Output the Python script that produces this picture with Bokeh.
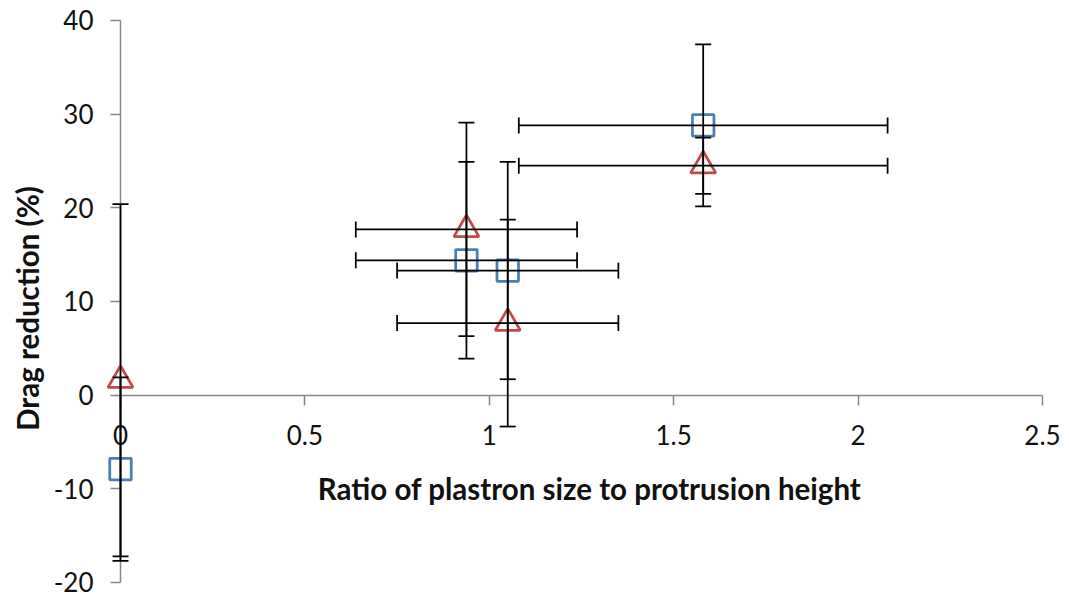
import math
from bokeh.plotting import figure
from bokeh.models import (ColumnDataSource, Whisker, TeeHead, Label,
                          FixedTicker, NumeralTickFormatter)
from bokeh.embed import file_html
from bokeh.resources import INLINE

# ---- data ----
ratio = [0.0, 0.938, 1.050, 1.580]          # plastron size / protrusion height
ratio_err = [0.0, 0.3, 0.3, 0.5]
sq_drag = [-7.9, 14.4, 13.3, 28.8]           # blue squares
sq_err = [9.8, 10.5, 11.6, 8.65]
tri_drag = [1.6, 17.7, 7.7, 24.5]            # red triangles
tri_err = [18.8, 11.4, 11.05, 3.0]

x_ticks = [0, 0.5, 1, 1.5, 2, 2.5]
y_ticks = [-20, -10, 0, 10, 20, 30, 40]

x_title = "Ratio of plastron size to protrusion height"
y_title = "Drag reduction (%)"

BLUE = "#4A7EBB"
RED = "#BE4B48"
AXIS = "#868686"
FONT = "Lato"

# The frame covers the whole canvas so that the axes, which cross at (0, 0),
# and their labels are not clipped; the ranges give 0..2.5 / -20..40 the
# reference's pixel extent.
p = figure(width=1065, height=599,
           x_range=(-0.3254, 2.5624), y_range=(-21.815, 42.135),
           output_backend="svg", toolbar_location=None,
           min_border_left=0, min_border_right=0,
           min_border_top=0, min_border_bottom=0)
p.grid.visible = False
p.outline_line_color = None
p.background_fill_color = "white"
p.border_fill_color = "white"

for ax, ticks, fmt in ((p.xaxis[0], x_ticks, "0.[0]"), (p.yaxis[0], y_ticks, "0")):
    ax.fixed_location = 0
    ax.ticker = FixedTicker(ticks=ticks)
    ax.formatter = NumeralTickFormatter(format=fmt)
    ax.axis_line_color = AXIS
    ax.axis_line_width = 1.5
    ax.major_tick_line_color = AXIS
    ax.major_tick_line_width = 1.5
    ax.major_tick_out = 10
    ax.major_tick_in = 0
    ax.minor_tick_line_color = None
    ax.major_label_text_font = FONT
    ax.major_label_text_font_size = "26px"
    ax.major_label_text_color = "#111111"

p.xaxis[0].bounds = (0, 2.5)
p.yaxis[0].bounds = (-20, 40)
p.xaxis[0].major_label_standoff = 20
p.yaxis[0].major_label_standoff = 17


def add_series(ys, yerr, color, marker, size):
    src = ColumnDataSource(dict(
        x=ratio, y=ys,
        yl=[a - e for a, e in zip(ys, yerr)],
        yu=[a + e for a, e in zip(ys, yerr)],
    ))
    idx = [i for i, e in enumerate(ratio_err) if e > 0]
    hsrc = ColumnDataSource(dict(
        y=[ys[i] for i in idx],
        xl=[ratio[i] - ratio_err[i] for i in idx],
        xu=[ratio[i] + ratio_err[i] for i in idx],
    ))
    for w in (
        Whisker(source=src, base="x", lower="yl", upper="yu", dimension="height"),
        Whisker(source=hsrc, base="y", lower="xl", upper="xu", dimension="width"),
    ):
        w.level = "annotation"
        w.line_color = "black"
        w.line_width = 1.75
        w.upper_head = TeeHead(size=16, line_color="black", line_width=1.75)
        w.lower_head = TeeHead(size=16, line_color="black", line_width=1.75)
        p.add_layout(w)
    p.scatter("x", "y", source=src, marker=marker, size=size,
              fill_color=None, line_color=color, line_width=2.75)


add_series(sq_drag, sq_err, BLUE, "square", 21.5)
add_series(tri_drag, tri_err, RED, "triangle", 25)

p.add_layout(Label(x=1.272, y=-9.96, text=x_title, text_align="center",
                   text_baseline="middle", text_font=FONT, text_font_style="bold",
                   text_font_size="29.5px", text_color="#111111"))
p.add_layout(Label(x=-0.2522, y=9.26, text=y_title, angle=math.pi / 2,
                   text_align="center", text_baseline="middle", text_font=FONT,
                   text_font_style="bold", text_font_size="29.5px",
                   text_color="#111111"))

open("out.html", "w").write(file_html(p, INLINE))
